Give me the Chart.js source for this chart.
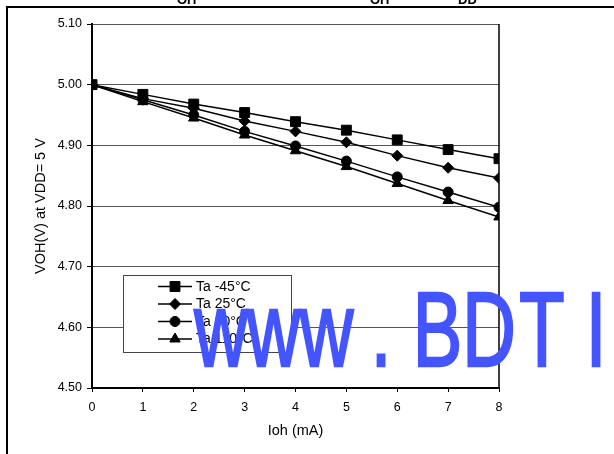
<!DOCTYPE html>
<html>
<head>
<meta charset="utf-8">
<script src="https://cdn.jsdelivr.net/npm/chart.js@4.4.1/dist/chart.umd.min.js"></script>
<style>
  html, body { margin: 0; padding: 0; background: #fff; }
  #wrap { width: 614px; height: 454px; position: relative; }
</style>
</head>
<body>
<div id="wrap"><canvas id="c" width="614" height="454"></canvas></div>
<script>
// ---- data ----
const currents = [0, 1, 2, 3, 4, 5, 6, 7, 8];              // Ioh (mA)
const seriesNames = ['Ta -45°C', 'Ta 25°C', 'Ta 90°C', 'Ta 110°C'];
const vohMinus45 = [5.000, 4.984, 4.968, 4.954, 4.939, 4.925, 4.909, 4.893, 4.878];
const voh25      = [5.000, 4.977, 4.961, 4.940, 4.923, 4.905, 4.883, 4.863, 4.846];
const voh90      = [5.000, 4.975, 4.950, 4.923, 4.899, 4.874, 4.848, 4.823, 4.798];
const voh110     = [5.000, 4.972, 4.945, 4.917, 4.891, 4.865, 4.837, 4.809, 4.782];
const yTickValues = [4.50, 4.60, 4.70, 4.80, 4.90, 5.00, 5.10];
const xTitle = 'Ioh (mA)';
const yTitle = 'VOH(V) at VDD= 5 V';
const watermark = 'www.BDTI';

const FONT = "'Liberation Sans', Arial, Helvetica, sans-serif";
Chart.defaults.font.family = FONT;
Chart.defaults.color = '#000';

const styles = [
  { pointStyle: 'rect', radius: 7 },
  { pointStyle: 'rectRot', radius: 5.5 },
  { pointStyle: 'circle', radius: 5 },
  { pointStyle: 'triangle', radius: 6 }
];
const seriesValues = [vohMinus45, voh25, voh90, voh110];

const datasets = seriesValues.map((vals, i) => ({
  label: seriesNames[i],
  data: currents.map((x, j) => ({ x: x, y: vals[j] })),
  borderColor: '#000',
  borderWidth: 1.5,
  backgroundColor: '#000',
  pointBackgroundColor: '#000',
  pointBorderColor: '#000',
  pointBorderWidth: 1,
  pointStyle: styles[i].pointStyle,
  pointRadius: styles[i].radius,
  tension: 0,
  fill: false
}));

function drawMarker(ctx, style, r, x, y) {
  if (Chart.helpers && Chart.helpers.drawPoint) {
    ctx.fillStyle = '#000';
    ctx.strokeStyle = '#000';
    ctx.lineWidth = 1;
    Chart.helpers.drawPoint(ctx, { pointStyle: style, radius: r, rotation: 0, borderWidth: 1 }, x, y);
  }
}

const framePlugin = {
  id: 'frame',
  beforeDraw(chart) {
    const ctx = chart.ctx;
    ctx.save();
    ctx.fillStyle = '#fff';
    ctx.fillRect(0, 0, chart.width, chart.height);
    // outer frame (top + left)
    ctx.strokeStyle = '#000';
    ctx.lineWidth = 2;
    ctx.beginPath();
    ctx.moveTo(7, chart.height);
    ctx.lineTo(7, 7);
    ctx.lineTo(chart.width, 7);
    ctx.stroke();
    // clipped caption fragments above the frame
    ctx.fillStyle = '#000';
    ctx.font = 'bold 13px ' + FONT;
    ctx.textBaseline = 'alphabetic';
    ctx.textAlign = 'left';
    ctx.fillText('OH', 177, 4);
    ctx.fillText('OH', 370, 4);
    ctx.fillText('DD', 458, 4);
    ctx.restore();
  },
  afterDatasetsDraw(chart) {
    const ctx = chart.ctx;
    const a = chart.chartArea;
    ctx.save();
    // right border of plot area
    ctx.strokeStyle = '#000';
    ctx.lineWidth = 1.5;
    ctx.beginPath();
    ctx.moveTo(a.right, a.top);
    ctx.lineTo(a.right, a.bottom);
    ctx.stroke();

    // legend box
    const lx = 123.5, ly = 275.5, lw = 168, lh = 77;
    ctx.fillStyle = '#fff';
    ctx.fillRect(lx, ly, lw, lh);
    ctx.strokeStyle = '#444';
    ctx.lineWidth = 1;
    ctx.strokeRect(lx, ly, lw, lh);
    const rowY = [286.5, 304, 321.5, 339];
    chart.data.datasets.forEach((ds, i) => {
      const y = rowY[i];
      ctx.strokeStyle = '#000';
      ctx.lineWidth = 1.5;
      ctx.beginPath();
      ctx.moveTo(158, y);
      ctx.lineTo(192, y);
      ctx.stroke();
      drawMarker(ctx, ds.pointStyle, ds.pointRadius, 175, y);
      ctx.fillStyle = '#000';
      ctx.font = '14px ' + FONT;
      ctx.textAlign = 'left';
      ctx.textBaseline = 'middle';
      ctx.fillText(ds.label, 196, y + 0.5);
    });
    ctx.restore();
  },
  afterDraw(chart) {
    // blue watermark overlay
    const ctx = chart.ctx;
    const centers = [221, 273.5, 326.5, 381, 437.5, 489, 542, 596];
    ctx.save();
    ctx.fillStyle = '#4455ff';
    ctx.strokeStyle = '#4455ff';
    ctx.lineWidth = 2.5;
    ctx.lineJoin = 'miter';
    ctx.font = '106px ' + FONT;
    ctx.textAlign = 'center';
    ctx.textBaseline = 'alphabetic';
    for (let i = 0; i < watermark.length; i++) {
      ctx.save();
      ctx.translate(centers[i], 366);
      ctx.scale(0.7, 1);
      ctx.fillText(watermark[i], 0, 0);
      ctx.strokeText(watermark[i], 0, 0);
      ctx.restore();
    }
    ctx.restore();
  }
};

new Chart(document.getElementById('c'), {
  type: 'line',
  data: { datasets: datasets },
  options: {
    responsive: false,
    animation: false,
    devicePixelRatio: 1,
    layout: { padding: { left: 8, right: 115, top: 24, bottom: 0 } },
    plugins: {
      legend: { display: false },
      tooltip: { enabled: false },
      title: { display: false }
    },
    scales: {
      x: {
        type: 'linear',
        min: 0, max: 8,
        afterFit: s => { s.height = 66; },
        ticks: { stepSize: 1, padding: 8, font: { size: 12.5 }, color: '#000', maxRotation: 0 },
        grid: { display: true, drawOnChartArea: false, tickLength: 4, color: '#000', tickColor: '#000' },
        border: { display: true, color: '#000', width: 2 },
        title: { display: true, text: xTitle, font: { size: 14.5 }, color: '#000', padding: { top: 0, bottom: 14 } }
      },
      y: {
        type: 'linear',
        min: 4.5, max: 5.1,
        afterFit: s => { s.width = 84; },
        afterBuildTicks: s => { s.ticks = yTickValues.map(v => ({ value: v })); },
        ticks: { padding: 5, font: { size: 12.5 }, color: '#000', callback: v => Number(v).toFixed(2) },
        grid: { display: true, drawOnChartArea: true, tickLength: 5, color: '#555', tickColor: '#000', lineWidth: 1 },
        border: { display: true, color: '#000', width: 2 },
        title: { display: true, text: yTitle, font: { size: 14.5 }, color: '#000', padding: { top: 24, bottom: 0 } }
      }
    }
  },
  plugins: [framePlugin]
});
</script>
</body>
</html>
